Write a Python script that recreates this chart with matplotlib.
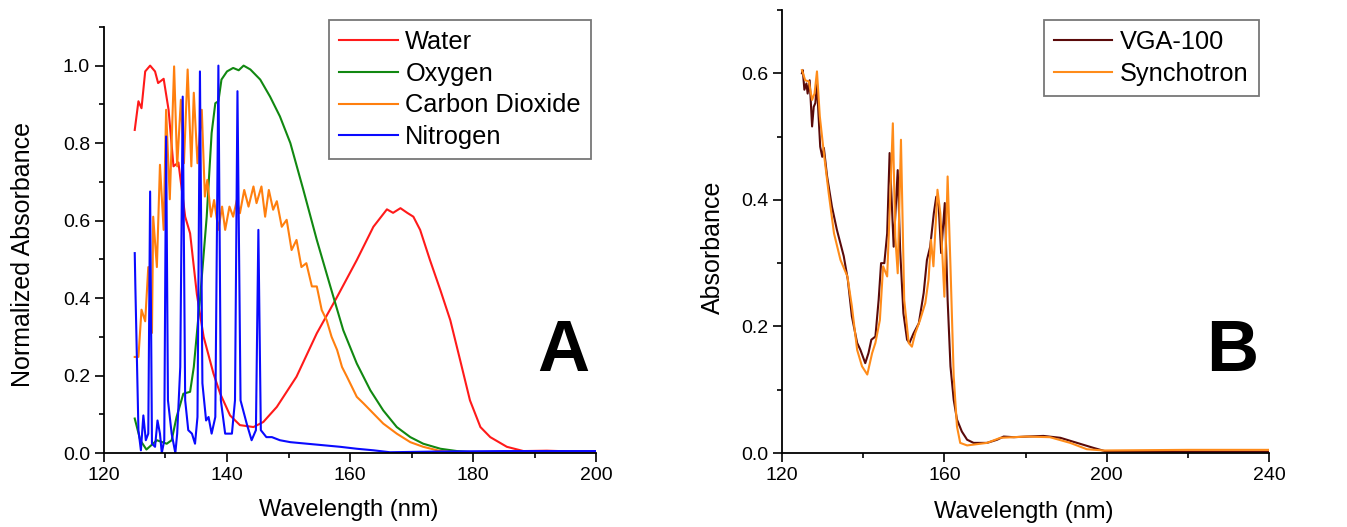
import matplotlib.pyplot as plt
from matplotlib.ticker import MultipleLocator

plt.rcParams['font.family'] = ['Liberation Sans', 'DejaVu Sans']

# ---- panel A: normalized absorbance of gases ----
water_wl = [125, 125.6, 126.1, 126.7, 127.5, 128.3, 128.8, 129.7, 130.5, 131.3, 132.1, 133.2,
            134, 135.1, 136.2, 137.8, 138.9, 140.5, 142.1, 144.3, 145.9, 148.1, 151.3, 154.6,
            157.9, 161.1, 163.8, 166, 167, 168.2, 169.3, 170.3, 171.4, 173, 174.7, 176.3, 177.9,
            179.5, 181.2, 182.8, 185.5, 188.2, 192, 196, 200]
water_abs = [0.834, 0.908, 0.89, 0.985, 1.0, 0.985, 0.955, 0.966, 0.886, 0.74, 0.75, 0.61,
             0.567, 0.41, 0.30, 0.205, 0.153, 0.097, 0.072, 0.067, 0.08, 0.119, 0.197, 0.309,
             0.403, 0.498, 0.584, 0.629, 0.62, 0.632, 0.62, 0.61, 0.576, 0.498, 0.42, 0.343, 0.24,
             0.136, 0.067, 0.041, 0.016, 0.005, 0.006, 0.004, 0.005]

oxygen_wl = [125, 125.9, 126.9, 128.6, 130.2, 131, 131.8, 132.9, 134, 134.6, 135.6, 136.7,
             137.5, 138.1, 138.6, 139.1, 140, 141, 141.9, 142.7, 143.8, 145.4, 147, 148.6,
             150.3, 152.4, 154.6, 156.8, 158.9, 161.1, 163.3, 165.4, 167.6, 169.8, 171.9,
             174.7, 177.4, 180.1, 190, 200]
oxygen_abs = [0.089, 0.033, 0.009, 0.033, 0.024, 0.033, 0.093, 0.153, 0.158, 0.222, 0.395, 0.61,
              0.826, 0.903, 0.908, 0.964, 0.985, 0.994, 0.988, 1.0, 0.99, 0.964, 0.92, 0.869,
              0.8, 0.68, 0.55, 0.43, 0.317, 0.231, 0.162, 0.11, 0.067, 0.041, 0.024,
              0.011, 0.005, 0.002, 0.0, 0.0]

co2_wl = [125, 125.6, 126.1, 126.7, 127.2, 127.8, 128, 128.6, 129.1, 129.7, 130.1, 130.7,
          131.4, 131.9, 132.5, 133, 133.6, 134.2, 134.6, 135.2, 135.9, 136.4, 136.8, 137.4,
          137.9, 138.6, 139.2, 139.7, 140.4, 141, 141.6, 142.1, 142.8, 143.5, 144.3, 144.8,
          145.6, 146.2, 146.8, 147.5, 148.1, 148.9, 149.7, 150.5, 151.3, 152.1, 152.9, 153.8,
          154.6, 155.4, 156.2, 157, 157.9, 158.7, 159.5, 160.3, 161.1, 162.2, 163.8, 165.4,
          167.6, 169.8, 171.9, 174.7, 177.4, 185, 200]
co2_abs = [0.248, 0.248, 0.37, 0.34, 0.48, 0.31, 0.61, 0.48, 0.744, 0.576, 0.886, 0.655,
           0.998, 0.74, 0.912, 0.748, 0.99, 0.74, 0.93, 0.748, 0.886, 0.662, 0.705, 0.61,
           0.653, 0.576, 0.636, 0.576, 0.636, 0.61, 0.653, 0.619, 0.679, 0.636, 0.688, 0.645,
           0.688, 0.61, 0.679, 0.628, 0.65, 0.584, 0.602, 0.524, 0.55, 0.48, 0.49, 0.43,
           0.43, 0.369, 0.343, 0.3, 0.266, 0.222, 0.197, 0.171, 0.145, 0.128, 0.102, 0.076,
           0.05, 0.028, 0.016, 0.005, 0.002, 0.001, 0.0]

n2_wl = [125, 125.1, 125.6, 126, 126.4, 126.8, 127.2, 127.5, 127.8, 128.3, 128.7, 129.1,
         129.4, 129.8, 130.1, 130.4, 131, 131.6, 131.9, 132.4, 132.8, 133.2, 133.7, 134.3,
         134.8, 135.2, 135.6, 136, 136.6, 137, 137.5, 138.1, 138.6, 139, 139.7, 140.8, 141.3,
         141.7, 142.2, 143.2, 144, 144.7, 145.1, 145.5, 146.4, 147.3, 148.6, 150.3, 153,
         155.7, 158.4, 161.1, 163.8, 166.5, 175, 185, 200]
n2_abs = [0.516, 0.43, 0.059, 0.007, 0.097, 0.033, 0.05, 0.675, 0.024, 0.016, 0.084, 0.05,
          0.0, 0.033, 0.817, 0.136, 0.05, 0.0, 0.05, 0.222, 0.92, 0.136, 0.059, 0.05,
          0.024, 0.093, 0.985, 0.18, 0.084, 0.093, 0.05, 0.093, 1.0, 0.136, 0.05, 0.05, 0.136,
          0.934, 0.136, 0.076, 0.033, 0.059, 0.576, 0.059, 0.041, 0.041, 0.033, 0.028, 0.024,
          0.02, 0.016, 0.011, 0.007, 0.002, 0.004, 0.005, 0.005]

# ---- panel B: VGA-100 vs synchrotron ----
vga_wl = [124.9, 125.1, 125.5, 126, 126.3, 126.8, 127.4, 127.8, 128.2, 128.6, 129, 129.4,
          129.9, 130.3, 131.1, 132.3, 133.5, 135.2, 136.2, 137.2, 138.5, 139.3, 140.5, 141.3,
          142, 143, 143.8, 144.4, 145.2, 145.9, 146.5, 147.5, 148.5, 149.1, 149.9, 150.8,
          151.4, 152.4, 153.7, 154.9, 155.7, 156.5, 157.4, 158, 158.6, 159.2, 160.1, 160.8,
          161.5, 162.3, 163.1, 164.3, 165.6, 167.2, 170.5, 173, 174.6, 177.1, 180.3, 184.4,
          188.6, 192.7, 196.8, 200.1, 220, 240]
vga_abs = [0.6, 0.605, 0.574, 0.584, 0.568, 0.589, 0.516, 0.547, 0.553, 0.584, 0.532, 0.484,
           0.468, 0.482, 0.437, 0.389, 0.353, 0.311, 0.274, 0.216, 0.174, 0.163, 0.142, 0.158,
           0.179, 0.184, 0.242, 0.3, 0.3, 0.347, 0.474, 0.326, 0.447, 0.321, 0.221, 0.179,
           0.174, 0.189, 0.205, 0.253, 0.305, 0.326, 0.379, 0.405, 0.389, 0.316, 0.395, 0.242,
           0.137, 0.084, 0.053, 0.034, 0.021, 0.016, 0.016, 0.021, 0.026, 0.025, 0.026, 0.027,
           0.024, 0.016, 0.008, 0.002, 0.002, 0.002]

syn_wl = [124.9, 125.7, 126.6, 127.4, 128, 128.6, 129.3, 130.3, 131.5, 132.8, 134.4, 136.1,
          137.2, 138.5, 139.7, 141, 142.2, 143, 144.1, 144.9, 145.9, 146.5, 147.3, 147.9,
          148.5, 149.3, 150.1, 151.2, 152, 152.8, 154, 155.3, 156.1, 156.7, 157.3, 158.3,
          159, 160, 160.8, 161.5, 162.3, 163.1, 163.9, 165.6, 170.5, 173.8, 180.3, 186, 191,
          195.1, 199.2, 220, 240]
syn_abs = [0.605, 0.589, 0.587, 0.558, 0.568, 0.603, 0.532, 0.474, 0.41, 0.347, 0.305, 0.279,
           0.232, 0.163, 0.137, 0.124, 0.158, 0.174, 0.21, 0.295, 0.279, 0.379, 0.521, 0.342,
           0.284, 0.495, 0.242, 0.174, 0.168, 0.189, 0.21, 0.237, 0.274, 0.337, 0.295, 0.416,
           0.379, 0.247, 0.437, 0.295, 0.121, 0.042, 0.016, 0.012, 0.016, 0.024, 0.026, 0.025,
           0.016, 0.006, 0.004, 0.005, 0.005]


def style_axes(ax, ylabel, ylab_x):
    ax.spines['top'].set_visible(False)
    ax.spines['right'].set_visible(False)
    for s in ('left', 'bottom'):
        ax.spines[s].set_linewidth(1.3)
    ax.tick_params(which='both', direction='out', width=1.2, labelsize=14)
    ax.tick_params(which='major', length=6.5)
    ax.tick_params(which='minor', length=3.6)
    ax.yaxis.set_major_formatter(lambda v, p: f'{v:.1f}')
    ax.set_xlabel('Wavelength (nm)', fontsize=17)
    ax.set_ylabel(ylabel, fontsize=18)
    ax.xaxis.set_label_coords(0.497, -0.108)
    ax.yaxis.set_label_coords(ylab_x, 0.465)


def add_legend(ax, anchor):
    leg = ax.legend(loc='upper right', bbox_to_anchor=anchor, borderaxespad=0, fontsize=18.3,
                    handlelength=2.3, fancybox=False, framealpha=1, borderpad=0.4,
                    labelspacing=0.3, handletextpad=0.3)
    leg.get_frame().set_edgecolor('#777777')
    leg.get_frame().set_linewidth(1.3)


fig = plt.figure(figsize=(13.47, 5.27), dpi=100)

axA = fig.add_axes([0.0772, 0.1404, 0.3653, 0.8086])
axA.plot(water_wl, water_abs, color='#ff1a1a', lw=1.5, label='Water')
axA.plot(oxygen_wl, oxygen_abs, color='#118811', lw=1.5, label='Oxygen')
axA.plot(co2_wl, co2_abs, color='#ff7f0e', lw=1.5, label='Carbon Dioxide')
axA.plot(n2_wl, n2_abs, color='#0a0aff', lw=1.5, label='Nitrogen')
axA.set_xlim(120, 200)
axA.set_ylim(0, 1.1)
axA.xaxis.set_major_locator(MultipleLocator(20))
axA.xaxis.set_minor_locator(MultipleLocator(10))
axA.yaxis.set_major_locator(MultipleLocator(0.2))
axA.yaxis.set_minor_locator(MultipleLocator(0.1))
style_axes(axA, 'Normalized Absorbance', -0.14)
add_legend(axA, (0.99, 1.016))
axA.text(0.986, 0.237, 'A', transform=axA.transAxes, fontsize=52, fontweight='bold',
         ha='right', va='center')

axB = fig.add_axes([0.5806, 0.1404, 0.3615, 0.8406])
axB.plot(vga_wl, vga_abs, color='#5a0a0a', lw=1.5, label='VGA-100')
axB.plot(syn_wl, syn_abs, color='#ff8c1a', lw=1.5, label='Synchotron')
axB.set_xlim(120, 240)
axB.set_ylim(0, 0.7)
axB.xaxis.set_major_locator(MultipleLocator(40))
axB.xaxis.set_minor_locator(MultipleLocator(20))
axB.yaxis.set_major_locator(MultipleLocator(0.2))
axB.yaxis.set_minor_locator(MultipleLocator(0.1))
style_axes(axB, 'Absorbance', -0.117)
add_legend(axB, (0.979, 0.977))
axB.text(0.978, 0.228, 'B', transform=axB.transAxes, fontsize=52, fontweight='bold',
         ha='right', va='center')

fig.savefig('out.png', dpi=100)
